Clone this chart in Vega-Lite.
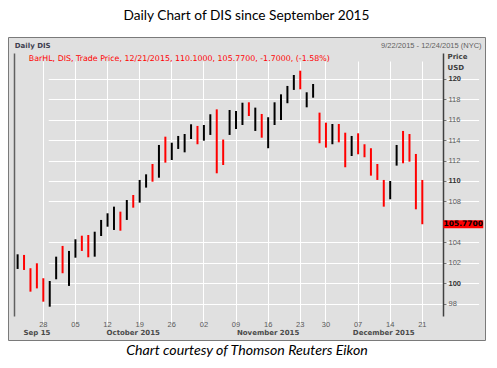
{
  "$schema": "https://vega.github.io/schema/vega-lite/v6.json",
  "width": 477,
  "height": 303,
  "autosize": {"type": "none"},
  "padding": {"left": 8, "top": 37, "right": 12, "bottom": 28},
  "background": "#ffffff",
  "title": {
    "text": "Daily Chart of DIS since September 2015",
    "font": "Lato",
    "fontSize": 13.7,
    "fontWeight": "normal",
    "color": "#000000",
    "anchor": "middle",
    "frame": "group",
    "baseline": "alphabetic",
    "offset": 3
  },
  "config": {
    "view": {"fill": "#e0e0e0", "stroke": "#7a7a7a", "strokeWidth": 1}
  },
  "resolve": {"axis": {"x": "independent", "y": "independent"}},
  "layer": [
    {
      "data": {
        "values": [
          {"date": "2015-09-22", "dir": "up", "high": 102.83, "low": 101.4},
          {"date": "2015-09-23", "dir": "down", "high": 102.77, "low": 101.3},
          {"date": "2015-09-24", "dir": "down", "high": 101.47, "low": 99.18},
          {"date": "2015-09-25", "dir": "down", "high": 101.95, "low": 99.5},
          {"date": "2015-09-28", "dir": "down", "high": 100.49, "low": 98.2},
          {"date": "2015-09-29", "dir": "up", "high": 100.22, "low": 97.71},
          {"date": "2015-09-30", "dir": "up", "high": 102.6, "low": 100.39},
          {"date": "2015-10-01", "dir": "down", "high": 103.65, "low": 100.98},
          {"date": "2015-10-02", "dir": "up", "high": 103.16, "low": 99.74},
          {"date": "2015-10-05", "dir": "up", "high": 104.3, "low": 102.5},
          {"date": "2015-10-06", "dir": "down", "high": 104.65, "low": 103.16},
          {"date": "2015-10-07", "dir": "down", "high": 104.72, "low": 102.54},
          {"date": "2015-10-08", "dir": "up", "high": 105.04, "low": 102.6},
          {"date": "2015-10-09", "dir": "up", "high": 106.19, "low": 104.62},
          {"date": "2015-10-12", "dir": "up", "high": 106.84, "low": 105.53},
          {"date": "2015-10-13", "dir": "up", "high": 107.49, "low": 105.21},
          {"date": "2015-10-14", "dir": "down", "high": 107.0, "low": 105.14},
          {"date": "2015-10-15", "dir": "up", "high": 108.14, "low": 106.19},
          {"date": "2015-10-16", "dir": "down", "high": 108.63, "low": 107.39},
          {"date": "2015-10-19", "dir": "up", "high": 110.1, "low": 107.88},
          {"date": "2015-10-20", "dir": "up", "high": 110.65, "low": 109.35},
          {"date": "2015-10-21", "dir": "down", "high": 111.66, "low": 109.93},
          {"date": "2015-10-22", "dir": "up", "high": 113.52, "low": 110.32},
          {"date": "2015-10-23", "dir": "down", "high": 114.33, "low": 111.79},
          {"date": "2015-10-26", "dir": "up", "high": 113.74, "low": 112.05},
          {"date": "2015-10-27", "dir": "up", "high": 114.4, "low": 113.13},
          {"date": "2015-10-28", "dir": "up", "high": 114.59, "low": 112.8},
          {"date": "2015-10-29", "dir": "up", "high": 115.54, "low": 114.1},
          {"date": "2015-10-30", "dir": "down", "high": 115.38, "low": 113.59},
          {"date": "2015-11-02", "dir": "up", "high": 115.47, "low": 113.94},
          {"date": "2015-11-03", "dir": "up", "high": 116.52, "low": 114.5},
          {"date": "2015-11-04", "dir": "down", "high": 117.0, "low": 110.75},
          {"date": "2015-11-05", "dir": "down", "high": 114.05, "low": 111.56},
          {"date": "2015-11-06", "dir": "up", "high": 116.94, "low": 114.5},
          {"date": "2015-11-09", "dir": "up", "high": 116.84, "low": 115.08},
          {"date": "2015-11-10", "dir": "up", "high": 117.65, "low": 115.47},
          {"date": "2015-11-11", "dir": "down", "high": 117.69, "low": 116.35},
          {"date": "2015-11-12", "dir": "up", "high": 117.17, "low": 114.89},
          {"date": "2015-11-13", "dir": "down", "high": 116.55, "low": 114.23},
          {"date": "2015-11-16", "dir": "up", "high": 116.23, "low": 113.2},
          {"date": "2015-11-17", "dir": "up", "high": 117.69, "low": 115.47},
          {"date": "2015-11-18", "dir": "up", "high": 118.47, "low": 115.96},
          {"date": "2015-11-19", "dir": "up", "high": 119.29, "low": 117.6},
          {"date": "2015-11-20", "dir": "up", "high": 120.36, "low": 118.9},
          {"date": "2015-11-23", "dir": "down", "high": 120.78, "low": 118.96},
          {"date": "2015-11-24", "dir": "up", "high": 118.67, "low": 117.2},
          {"date": "2015-11-25", "dir": "up", "high": 119.48, "low": 118.14},
          {"date": "2015-11-27", "dir": "down", "high": 116.68, "low": 113.69},
          {"date": "2015-11-30", "dir": "down", "high": 115.7, "low": 113.26},
          {"date": "2015-12-01", "dir": "up", "high": 115.57, "low": 113.59},
          {"date": "2015-12-02", "dir": "down", "high": 115.57, "low": 113.78},
          {"date": "2015-12-03", "dir": "down", "high": 114.72, "low": 111.34},
          {"date": "2015-12-04", "dir": "up", "high": 114.4, "low": 112.44},
          {"date": "2015-12-07", "dir": "down", "high": 114.66, "low": 112.61},
          {"date": "2015-12-08", "dir": "down", "high": 113.59, "low": 112.32},
          {"date": "2015-12-09", "dir": "down", "high": 113.2, "low": 110.52},
          {"date": "2015-12-10", "dir": "down", "high": 111.66, "low": 110.1},
          {"date": "2015-12-11", "dir": "down", "high": 110.1, "low": 107.49},
          {"date": "2015-12-14", "dir": "up", "high": 110.0, "low": 108.21},
          {"date": "2015-12-15", "dir": "up", "high": 113.52, "low": 111.5},
          {"date": "2015-12-16", "dir": "down", "high": 114.89, "low": 111.73},
          {"date": "2015-12-17", "dir": "down", "high": 114.59, "low": 111.89},
          {"date": "2015-12-18", "dir": "down", "high": 112.64, "low": 107.23},
          {"date": "2015-12-21", "dir": "down", "high": 110.1, "low": 105.77}
        ]
      },
      "mark": {"type": "rule", "strokeWidth": 2},
      "encoding": {
        "x": {
          "field": "date",
          "type": "ordinal",
          "scale": {
            "type": "band",
            "domain": ["2015-09-22","2015-09-23","2015-09-24","2015-09-25","2015-09-28","2015-09-29","2015-09-30","2015-10-01","2015-10-02","2015-10-05","2015-10-06","2015-10-07","2015-10-08","2015-10-09","2015-10-12","2015-10-13","2015-10-14","2015-10-15","2015-10-16","2015-10-19","2015-10-20","2015-10-21","2015-10-22","2015-10-23","2015-10-26","2015-10-27","2015-10-28","2015-10-29","2015-10-30","2015-11-02","2015-11-03","2015-11-04","2015-11-05","2015-11-06","2015-11-09","2015-11-10","2015-11-11","2015-11-12","2015-11-13","2015-11-16","2015-11-17","2015-11-18","2015-11-19","2015-11-20","2015-11-23","2015-11-24","2015-11-25","2015-11-27","2015-11-30","2015-12-01","2015-12-02","2015-12-03","2015-12-04","2015-12-07","2015-12-08","2015-12-09","2015-12-10","2015-12-11","2015-12-14","2015-12-15","2015-12-16","2015-12-17","2015-12-18","2015-12-21","2015-12-22","2015-12-23","2015-12-24"],
            "range": [6.4, 436.8],
            "paddingInner": 0,
            "paddingOuter": 0
          },
          "axis": {
            "orient": "bottom",
            "offset": -24,
            "values": ["2015-09-28","2015-10-05","2015-10-12","2015-10-19","2015-10-26","2015-11-02","2015-11-09","2015-11-16","2015-11-23","2015-11-30","2015-12-07","2015-12-14","2015-12-21"],
            "labelExpr": "substring(datum.value, 8, 10)",
            "labelAngle": 0,
            "labelFont": "Liberation Sans",
            "labelFontSize": 7.5,
            "labelColor": "#5a5a5a",
            "labelPadding": 10.7,
            "labelBaseline": "alphabetic",
            "labelOverlap": false,
            "ticks": false,
            "domain": false,
            "grid": true,
            "gridColor": "#ffffff",
            "gridWidth": 1,
            "gridOpacity": 1,
            "bandPosition": 0.5,
            "title": null
          }
        },
        "y": {
          "field": "low",
          "type": "quantitative",
          "scale": {"domain": [96.8, 122.5], "range": [279, 16.1], "nice": false, "zero": false},
          "axis": {
            "orient": "right",
            "offset": -42,
            "values": [98, 100, 102, 104, 108, 110, 112, 114, 116, 118, 120],
            "labelFont": "Liberation Sans",
            "labelFontSize": 7.5,
            "labelColor": {"condition": {"test": "datum.value % 10 === 0", "value": "#333333"}, "value": "#5a5a5a"},
            "labelFontWeight": {"condition": {"test": "datum.value % 10 === 0", "value": "bold"}, "value": "normal"},
            "labelBaseline": "middle",
            "labelPadding": 2,
            "tickSize": 3,
            "tickColor": "#777777",
            "domain": true,
            "domainColor": "#404040",
            "domainWidth": 1.5,
            "grid": true,
            "gridColor": "#ffffff",
            "gridOpacity": 1,
            "title": ["Price", "USD"],
            "titleAngle": 0,
            "titleAlign": "left",
            "titleBaseline": "middle",
            "titleX": 4,
            "titleY": 19.7,
            "titleFont": "DejaVu Sans",
            "titleFontSize": 7,
            "titleFontWeight": "bold",
            "titleColor": "#404040",
            "titleLineHeight": 10.6
          }
        },
        "y2": {"field": "high"},
        "color": {
          "field": "dir",
          "type": "nominal",
          "scale": {"domain": ["up", "down"], "range": ["#000000", "#ff0000"]},
          "legend": null
        }
      }
    },
    {
      "data": {"values": [{"price": 105.77, "label": "105.7700"}]},
      "mark": {"type": "point", "shape": "M-1,-0.2L1,-0.2L1,0.2L-1,0.2Z", "size": 1600, "filled": true, "color": "#ff0000", "opacity": 1, "strokeWidth": 0, "xOffset": 21.7},
      "encoding": {
        "x": {
          "datum": "2015-12-24",
          "type": "ordinal",
          "axis": {
            "orient": "bottom",
            "offset": -24,
            "values": ["2015-09-25", "2015-10-16", "2015-11-16", "2015-12-11"],
            "labelExpr": "datum.value === '2015-09-25' ? 'Sep 15' : datum.value === '2015-10-16' ? 'October 2015' : datum.value === '2015-11-16' ? 'November 2015' : 'December 2015'",
            "labelAngle": 0,
            "labelFont": "DejaVu Sans",
            "labelFontWeight": "bold",
            "labelFontSize": 7,
            "labelColor": "#4a4a4a",
            "labelPadding": 18.7,
            "labelBaseline": "alphabetic",
            "labelOverlap": false,
            "ticks": false,
            "domain": false,
            "grid": false,
            "bandPosition": 0.5,
            "title": "Chart courtesy of Thomson Reuters Eikon",
            "titleFont": "Lato",
            "titleFontStyle": "italic",
            "titleFontWeight": "normal",
            "titleFontSize": 14.2,
            "titleColor": "#000000",
            "titleX": 238.5,
            "titleY": 38,
            "titleAlign": "center",
            "titleBaseline": "alphabetic"
          }
        },
        "y": {
          "field": "price",
          "type": "quantitative",
          "axis": {
            "orient": "left",
            "offset": -6,
            "labels": false,
            "ticks": false,
            "grid": false,
            "domain": true,
            "domainColor": "#606060",
            "domainWidth": 1.5,
            "title": "BarHL, DIS, Trade Price, 12/21/2015, 110.1000, 105.7700, -1.7000, (-1.58%)",
            "titleAngle": 0,
            "titleAlign": "left",
            "titleBaseline": "alphabetic",
            "titleX": 14.3,
            "titleY": 23.3,
            "titleFont": "DejaVu Sans",
            "titleFontSize": 7.9,
            "titleFontWeight": "normal",
            "titleColor": "#ff0000"
          }
        }
      }
    },
    {
      "data": {"values": [{"price": 105.77, "label": "105.7700"}]},
      "mark": {"type": "text", "font": "DejaVu Sans", "fontWeight": "bold", "fontSize": 7.5, "color": "#000000", "dx": 21.7, "baseline": "middle", "align": "center"},
      "encoding": {
        "x": {
          "datum": "2015-12-24",
          "type": "ordinal",
          "axis": {
            "orient": "top",
            "offset": -10.7,
            "values": ["2015-12-24"],
            "labelExpr": "'9/22/2015 - 12/24/2015 (NYC)'",
            "labelAngle": 0,
            "labelAlign": "right",
            "labelBaseline": "alphabetic",
            "labelPadding": 0,
            "labelOffset": 40,
            "labelFlush": false,
            "labelFont": "Liberation Sans",
            "labelFontSize": 7.5,
            "labelColor": "#606060",
            "ticks": false,
            "domain": false,
            "grid": false,
            "bandPosition": 0.5,
            "title": "Daily DIS",
            "titleX": 6.3,
            "titleY": 0,
            "titleAlign": "left",
            "titleBaseline": "alphabetic",
            "titleAngle": 0,
            "titleFont": "DejaVu Sans",
            "titleFontSize": 7,
            "titleFontWeight": "bold",
            "titleColor": "#404050"
          }
        },
        "y": {"field": "price", "type": "quantitative", "axis": null},
        "text": {"field": "label"}
      }
    }
  ]
}
